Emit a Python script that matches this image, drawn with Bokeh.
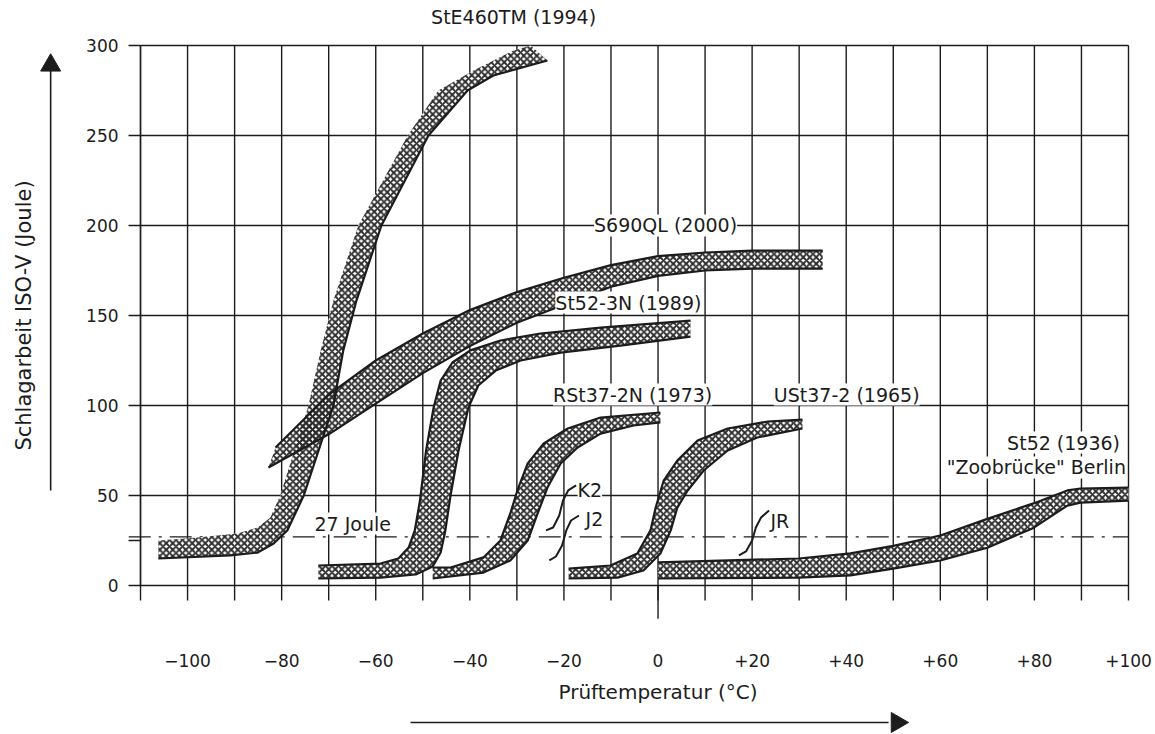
import math
from bokeh.plotting import figure
from bokeh.models import Range1d, FixedTicker, Label, LinearAxis
from bokeh.embed import file_html
from bokeh.resources import INLINE

FONT = "DejaVu Sans"
INK = "#1c1c1c"

# ---------------- data ----------------
x_ticks = [-100, -80, -60, -40, -20, 0, 20, 40, 60, 80, 100]
x_tick_labels = ["−100", "−80", "−60", "−40", "−20", "0", "+20", "+40", "+60", "+80", "+100"]
y_ticks = [0, 25, 50, 100, 150, 200, 250, 300]
y_tick_labels = ["0", "", "50", "100", "150", "200", "250", "300"]
x_grid = [-110, -100, -90, -80, -70, -60, -50, -40, -30, -20, -10, 0,
          10, 20, 30, 40, 50, 60, 70, 80, 90, 100]
y_grid = [0, 50, 100, 150, 200, 250, 300]
joule_27 = 27

# StE460TM (1994)
ste460_up_t = [-106.2, -97.9, -89.4, -85.1, -82.4, -80.3, -74.3, -71.7, -69.0, -63.7, -53.2, -46.7, -39.2, -30.7, -27.1]
ste460_up_j = [25.0, 26.7, 28.9, 32.2, 37.8, 50.0, 100.0, 130.6, 158.3, 200.0, 250.0, 275.0, 286.1, 297.2, 300.0]
ste460_lo_t = [-106.2, -90.9, -85.1, -81.7, -78.8, -75.3, -69.0, -66.9, -64.1, -58.8, -48.8, -40.5, -35.0, -23.5]
ste460_lo_j = [15.0, 16.7, 18.3, 23.3, 30.6, 50.0, 100.0, 130.6, 158.3, 200.0, 250.0, 275.0, 283.3, 291.7]

# S690QL (2000)
s690_up_t = [-81.3, -70.0, -60.0, -50.0, -40.0, -30.0, -20.0, -10.0, 0.0, 10.0, 20.0, 35.0]
s690_up_j = [76.7, 106.0, 125.0, 140.0, 153.0, 163.0, 171.0, 178.0, 183.0, 185.0, 186.0, 186.0]
s690_lo_t = [-82.8, -70.0, -60.0, -50.0, -40.0, -30.0, -20.0, -10.0, 0.0, 10.0, 20.0, 35.0]
s690_lo_j = [65.6, 84.0, 101.0, 118.0, 133.0, 146.0, 156.0, 166.0, 172.0, 175.0, 176.0, 176.0]

# St52-3N (1989)
st523n_up_t = [-72.2, -59.0, -55.2, -53.0, -51.7, -50.6, -49.3, -47.7, -46.2, -43.7, -39.9, -33.5, -25.0, -12.2, 6.9]
st523n_up_j = [11.1, 12.2, 15.0, 21.1, 30.6, 47.2, 75.0, 98.9, 113.9, 123.9, 130.6, 136.1, 140.0, 143.3, 147.2]
st523n_lo_t = [-72.2, -59.0, -51.5, -47.9, -46.2, -45.2, -44.1, -42.4, -40.3, -38.2, -34.5, -29.2, -20.7, -8.0, 6.9]
st523n_lo_j = [3.9, 4.4, 6.1, 10.6, 18.3, 30.6, 50.0, 75.0, 98.9, 111.1, 119.4, 125.0, 129.4, 133.3, 138.3]

# RSt37-2N (1973)
rst37_up_t = [-47.9, -44.1, -37.1, -33.5, -31.4, -29.9, -27.7, -24.3, -19.2, -12.2, 0.5]
rst37_up_j = [10.0, 10.0, 15.6, 25.0, 40.0, 52.8, 67.8, 78.9, 87.2, 93.3, 96.1]
rst37_lo_t = [-47.9, -37.1, -31.4, -27.7, -25.6, -23.5, -20.7, -17.1, -12.2, -5.2, 0.5]
rst37_lo_j = [3.9, 7.2, 13.9, 25.0, 40.0, 54.4, 67.8, 76.7, 84.4, 88.9, 90.6]

# USt37-2 (1965)
ust37_up_t = [-19.0, -10.1, -4.4, -1.6, -0.5, 1.2, 4.1, 8.4, 14.8, 23.3, 30.7]
ust37_up_j = [9.4, 11.1, 17.8, 30.6, 43.3, 58.3, 69.4, 80.6, 87.2, 91.1, 92.2]
ust37_lo_t = [-19.0, -8.6, -3.1, 0.5, 2.7, 4.1, 6.3, 9.7, 14.8, 21.1, 30.7]
ust37_lo_j = [3.9, 4.4, 8.3, 17.8, 30.6, 43.3, 52.8, 63.9, 75.0, 82.2, 87.2]

# St52 (1936) "Zoobrücke" Berlin
st52_t = [0.0, 29.9, 40.9, 50.0, 60.0, 70.0, 79.8, 87.0, 89.8, 100.0]
st52_up_j = [12.8, 15.0, 17.8, 22.0, 27.8, 37.0, 45.6, 52.8, 53.9, 54.4]
st52_lo_j = [3.9, 4.4, 5.6, 9.4, 13.9, 21.0, 32.0, 44.4, 46.0, 47.2]

# transition marks K2, J2, JR
k2_t = [-23.8, -22.3, -21.0, -20.2, -19.1, -17.4]
k2_j = [30.6, 32.2, 38.9, 47.2, 52.8, 55.6]
j2_t = [-23.1, -21.7, -20.4, -19.5, -18.5, -16.8]
j2_j = [13.9, 16.1, 22.2, 30.6, 36.1, 38.9]
jr_t = [17.2, 18.7, 20.0, 20.8, 21.9, 23.6]
jr_j = [16.7, 18.9, 25.0, 32.2, 37.8, 41.7]

# labels: (text, T, J, align)
curve_labels = [
    ("StE460TM (1994)", -30.7, 316.0, "center"),
    ("S690QL (2000)", 1.6, 200.0, "center"),
    ("St52-3N (1989)", -6.3, 157.2, "center"),
    ("RSt37-2N (1973)", -5.4, 106.1, "center"),
    ("USt37-2 (1965)", 40.1, 106.1, "center"),
    ("St52 (1936)", 86.2, 79.4, "center"),
    ("\"Zoobrücke\" Berlin", 80.4, 65.6, "center"),
    ("27 Joule", -64.9, 34.4, "center"),
    ("K2", -17.1, 52.8, "left"),
    ("J2", -15.4, 37.2, "left"),
    ("JR", 23.9, 36.1, "left"),
]

# ---------------- figure ----------------
# frame covers the full canvas; axes are pinned at fixed data locations
p = figure(width=1155, height=734, x_range=Range1d(-139.76, 105.74), y_range=Range1d(-82.78, 325.0),
           output_backend="svg", toolbar_location=None,
           x_axis_location=None, y_axis_location=None,
           min_border=0, min_border_left=0, min_border_right=0,
           min_border_top=0, min_border_bottom=0)
p.outline_line_color = None
p.background_fill_color = "white"
p.border_fill_color = "white"
p.xgrid.visible = False
p.ygrid.visible = False

# grid lines
p.segment(x0=x_grid, y0=[-8.3] * len(x_grid), x1=x_grid, y1=[300] * len(x_grid),
          line_color=INK, line_width=1.4)
p.segment(x0=[-110] * len(y_grid), y0=y_grid, x1=[100] * len(y_grid), y1=y_grid,
          line_color=INK, line_width=1.4)
p.segment(x0=[0], y0=[-18.5], x1=[0], y1=[0], line_color=INK, line_width=1.4)

# axes
xa = LinearAxis(fixed_location=-18.5)
xa.ticker = FixedTicker(ticks=x_ticks)
xa.bounds = (-100, 100)
xa.major_label_overrides = dict(zip(x_ticks, x_tick_labels))
xa.major_tick_out = 0
xa.major_tick_in = 0
xa.minor_tick_out = 0
xa.minor_tick_in = 0
xa.axis_line_color = None
xa.major_label_standoff = 35
xa.major_label_text_font = FONT
xa.major_label_text_font_size = "17px"
xa.major_label_text_color = INK
xa.axis_label = "Prüftemperatur (°C)"
xa.axis_label_text_font = FONT
xa.axis_label_text_font_size = "20px"
xa.axis_label_text_font_style = "normal"
xa.axis_label_text_color = INK
xa.axis_label_standoff = 10
p.add_layout(xa, "below")

ya = LinearAxis(fixed_location=-110)
ya.ticker = FixedTicker(ticks=y_ticks)
ya.major_label_overrides = dict(zip(y_ticks, y_tick_labels))
ya.bounds = (0, 300)
ya.axis_line_color = INK
ya.axis_line_width = 1.4
ya.major_tick_out = 12
ya.major_tick_in = 0
ya.major_tick_line_color = INK
ya.major_tick_line_width = 1.4
ya.minor_tick_out = 0
ya.minor_tick_in = 0
ya.major_label_standoff = 10
ya.major_label_text_font = FONT
ya.major_label_text_font_size = "17px"
ya.major_label_text_color = INK
ya.axis_label = "Schlagarbeit ISO-V (Joule)"
ya.axis_label_text_font = FONT
ya.axis_label_text_font_size = "21px"
ya.axis_label_text_font_style = "normal"
ya.axis_label_text_color = INK
ya.axis_label_standoff = 47
p.add_layout(ya, "left")

# 27 Joule line
p.segment(x0=[-112.5], y0=[joule_27], x1=[100], y1=[joule_27], line_color=INK,
          line_width=1.2, line_dash="22 8 3 8")

# bands
bands = [
    (ste460_up_t, ste460_up_j, ste460_lo_t, ste460_lo_j, False),
    (s690_up_t, s690_up_j, s690_lo_t, s690_lo_j, True),
    (st523n_up_t, st523n_up_j, st523n_lo_t, st523n_lo_j, True),
    (rst37_up_t, rst37_up_j, rst37_lo_t, rst37_lo_j, True),
    (ust37_up_t, ust37_up_j, ust37_lo_t, ust37_lo_j, True),
    (st52_t, st52_up_j, st52_t, st52_lo_j, True),
]
for ut, uj, lt, lj, up_line in bands:
    p.patch(list(ut) + list(lt)[::-1], list(uj) + list(lj)[::-1],
            fill_color="white", line_color=None)
for ut, uj, lt, lj, up_line in bands:
    p.patch(list(ut) + list(lt)[::-1], list(uj) + list(lj)[::-1],
            fill_alpha=0, hatch_pattern="x", hatch_scale=6.5, hatch_weight=1.9,
            hatch_color="#2a2a2a", line_color=None)
for ut, uj, lt, lj, up_line in bands:
    p.line(lt, lj, line_color=INK, line_width=2.2)
    if up_line:
        p.line(ut, uj, line_color=INK, line_width=2.2)

for mt, mj in [(k2_t, k2_j), (j2_t, j2_j), (jr_t, jr_j)]:
    p.line(mt, mj, line_color=INK, line_width=2)

for text, tx, ty, align in curve_labels:
    p.add_layout(Label(x=tx, y=ty, text=text, text_align=align, text_baseline="middle",
                       text_font=FONT, text_font_size="19px", text_color=INK,
                       background_fill_color="white", background_fill_alpha=1.0))

# axis arrows (shaft + triangular head)
p.segment(x0=[-129.1], y0=[52.8], x1=[-129.1], y1=[286.0], line_color=INK, line_width=1.6)
p.scatter(x=[-129.1], y=[289.0], marker="triangle", size=20, fill_color=INK, line_color=INK)
p.segment(x0=[-52.6], y0=[-76.1], x1=[49.0], y1=[-76.1], line_color=INK, line_width=1.6)
p.scatter(x=[50.8], y=[-76.1], marker="triangle", size=20, angle=-math.pi / 2,
          fill_color=INK, line_color=INK)

open("out.html", "w").write(file_html(p, INLINE))
